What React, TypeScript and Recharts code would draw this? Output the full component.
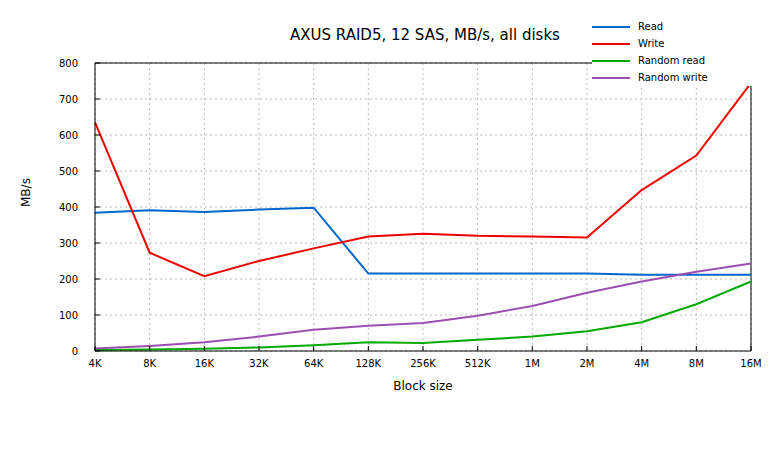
import React from 'react'
import { LineChart, Line, XAxis, YAxis, CartesianGrid, ReferenceLine } from 'recharts'

const blockSizes = ['4K', '8K', '16K', '32K', '64K', '128K', '256K', '512K', '1M', '2M', '4M', '8M', '16M']
const readMBs = [384, 391, 386, 393, 398, 215, 215, 215, 215, 215, 212, 212, 212]
const writeMBs = [635, 273, 208, 250, 285, 318, 326, 320, 318, 315, 447, 543, 745]
const randomReadMBs = [3, 4, 6, 10, 16, 24, 22, 31, 40, 55, 80, 130, 193]
const randomWriteMBs = [7, 14, 24, 40, 59, 70, 78, 98, 125, 162, 193, 220, 243]
const yTicks = [0, 100, 200, 300, 400, 500, 600, 700, 800]

const data = blockSizes.map((b, i) => ({
  block: b,
  read: readMBs[i],
  write: writeMBs[i],
  rread: randomReadMBs[i],
  rwrite: randomWriteMBs[i],
}))

const series = [
  { key: 'read', name: 'Read', color: '#0066cc' },
  { key: 'write', name: 'Write', color: '#ee0000' },
  { key: 'rread', name: 'Random read', color: '#00aa00' },
  { key: 'rwrite', name: 'Random write', color: '#9b4fb0' },
]

const font = 'DejaVu Sans, sans-serif'

function LegendBox() {
  return (
    <div style={{ position: 'absolute', top: 18, left: 592, width: 160, background: '#fff', fontFamily: font, fontSize: 10, color: '#000' }}>
      {series.map((s) => (
        <div key={s.key} style={{ display: 'flex', alignItems: 'center', height: 17 }}>
          <div style={{ width: 38, height: 2, background: s.color, marginRight: 8 }} />
          <span>{s.name}</span>
        </div>
      ))}
    </div>
  )
}

export default function App() {
  return (
    <div style={{ position: 'absolute', left: 0, top: 0, width: 784, height: 473, background: '#fff' }}>
      <div style={{ position: 'absolute', top: 26, left: 0, width: 850, textAlign: 'center', fontFamily: font, fontSize: 15, color: '#000' }}>
        AXUS RAID5, 12 SAS, MB/s, all disks
      </div>
      <LineChart width={784} height={473} data={data} margin={{ top: 63, right: 33, bottom: 61, left: 0 }}>
        <CartesianGrid stroke="#bbb" strokeDasharray="2 3" />
        <XAxis
          dataKey="block"
          height={61}
          tick={{ fontSize: 10, fill: '#000', fontFamily: font }}
          tickLine={{ stroke: '#000' }}
          tickSize={-5}
          axisLine={{ stroke: '#000' }}
          tickMargin={14}
          label={{ value: 'Block size', position: 'insideBottom', offset: 22, fontSize: 12, fill: '#000', fontFamily: font }}
        />
        <YAxis
          width={95}
          domain={[0, 800]}
          ticks={yTicks}
          tick={{ fontSize: 10, fill: '#000', fontFamily: font }}
          tickLine={{ stroke: '#000' }}
          tickSize={-5}
          tickMargin={22}
          axisLine={{ stroke: '#000' }}
          label={{ value: 'MB/s', angle: -90, position: 'insideLeft', offset: 26, fontSize: 12, fill: '#000', fontFamily: font }}
        />
        <ReferenceLine y={800} stroke="#000" />
        <ReferenceLine x="16M" stroke="#000" />
        {series.map((s) => (
          <Line
            key={s.key}
            dataKey={s.key}
            name={s.name}
            stroke={s.color}
            strokeWidth={2}
            dot={false}
            type="linear"
            isAnimationActive={false}
          />
        ))}
      </LineChart>
      <LegendBox />
    </div>
  )
}
